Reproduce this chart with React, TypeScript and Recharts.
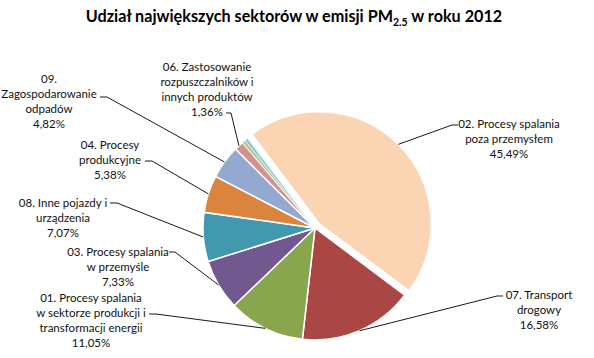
import { PieChart, Pie, Cell } from 'recharts';

const sectorLabels: string[][] = [
  ['02. Procesy spalania', 'poza przemysłem'],
  ['07. Transport', 'drogowy'],
  ['01. Procesy spalania', 'w sektorze produkcji i', 'transformacji energii'],
  ['03. Procesy spalania', 'w przemyśle'],
  ['08. Inne pojazdy i', 'urządzenia'],
  ['04. Procesy', 'produkcyjne'],
  ['09.', 'Zagospodarowanie', 'odpadów'],
  ['06. Zastosowanie', 'rozpuszczalników i', 'innych produktów'],
  [],
  [],
];

const sectorShares = [45.49, 16.58, 11.05, 7.33, 7.07, 5.38, 4.82, 1.36, 0.48, 0.44];

const sectorColors = [
  '#FBD4B4', '#AA4643', '#89A54E', '#71588F', '#4198AF',
  '#DB843D', '#93A9CF', '#D19392', '#B3CB8A', '#86C9DE',
];

const data = sectorShares.map((value, i) => ({ name: sectorLabels[i].join(' '), value }));

// label placement (text centre x, first line y, short hook next to the text)
const LABEL_LAYOUT = [
  { x: 509, y: 123, hook: [458, 125, 452, 125] },
  { x: 539, y: 294, hook: [503, 296, 497, 296] },
  { x: 91, y: 297, hook: [149, 314, 156, 314] },
  { x: 118, y: 251, hook: [169, 252, 175, 252] },
  { x: 63, y: 202, hook: [110, 203, 117, 203] },
  { x: 110, y: 144, hook: [145, 161, 152, 161] },
  { x: 49, y: 78, hook: [100, 97, 107, 97] },
  { x: 207, y: 66, hook: [226, 113, 231, 113] },
];

const CX = 310;
const CY = 223;
const R = 112;
const START = 127;
const EXPLODE = 6;
const LINE_H = 15;
const FONT = 'Lato, "Open Sans", sans-serif';

const total = sectorShares.reduce((a, b) => a + b, 0);
const midBig = ((START - (sectorShares[0] / total) * 180) * Math.PI) / 180;
const bigCx = CX + EXPLODE * Math.cos(midBig);
const bigCy = CY - EXPLODE * Math.sin(midBig);

const fmt = (v: number) => `${v.toFixed(2).replace('.', ',')}%`;

const makeLabel = (show: (i: number) => boolean) => (props: any) => {
  const { cx, cy, midAngle, outerRadius, index } = props;
  const layout = LABEL_LAYOUT[index];
  if (!show(index) || !layout) return null;
  const rad = Math.PI / 180;
  const ex = cx + outerRadius * Math.cos(-midAngle * rad);
  const ey = cy + outerRadius * Math.sin(-midAngle * rad);
  const [x1, y1, x2, y2] = layout.hook;
  const lines = [...sectorLabels[index], fmt(sectorShares[index])];
  return (
    <g key={`lbl-${index}`}>
      <polyline
        points={`${x1},${y1} ${x2},${y2} ${ex},${ey}`}
        fill="none"
        stroke="#1a1a1a"
        strokeWidth={1}
      />
      <text
        x={layout.x}
        y={layout.y}
        textAnchor="middle"
        fontFamily={FONT}
        fontSize={11.5}
        fill="#111"
      >
        {lines.map((line, i) => (
          <tspan key={i} x={layout.x} y={layout.y + i * LINE_H} dominantBaseline="central">
            {line}
          </tspan>
        ))}
      </text>
    </g>
  );
};

export default function App() {
  return (
    <div style={{ position: 'absolute', left: 0, top: 0, width: 594, height: 358, background: '#fff' }}>
      <div
        style={{
          position: 'absolute',
          left: 0,
          top: 5,
          width: 588,
          textAlign: 'center',
          fontFamily: FONT,
          fontWeight: 700,
          fontSize: 16.2,
          color: '#000',
          lineHeight: '22px',
        }}
      >
        Udział największych sektorów w emisji PM
        <span style={{ fontSize: 10.5, position: 'relative', top: 4 }}>2.5</span> w roku 2012
      </div>
      <PieChart width={594} height={358} style={{ position: 'absolute', left: 0, top: 0 }}>
        <Pie
          data={data}
          dataKey="value"
          cx={CX}
          cy={CY}
          outerRadius={R}
          startAngle={START}
          endAngle={START - 360}
          isAnimationActive={false}
          labelLine={false}
          label={makeLabel(i => i !== 0)}
        >
          {data.map((_, i) => (
            <Cell
              key={`cell-${i}`}
              fill={i === 0 ? 'transparent' : sectorColors[i]}
              stroke={i === 0 ? 'none' : '#fff'}
              strokeWidth={i >= 8 ? 0.6 : 1.5}
            />
          ))}
        </Pie>
        <Pie
          data={data}
          dataKey="value"
          cx={bigCx}
          cy={bigCy}
          outerRadius={R}
          startAngle={START}
          endAngle={START - 360}
          isAnimationActive={false}
          labelLine={false}
          label={makeLabel(i => i === 0)}
        >
          {data.map((_, i) => (
            <Cell
              key={`big-${i}`}
              fill={i === 0 ? sectorColors[0] : 'transparent'}
              stroke={i === 0 ? '#fff' : 'none'}
              strokeWidth={1.5}
            />
          ))}
        </Pie>
      </PieChart>
    </div>
  );
}
